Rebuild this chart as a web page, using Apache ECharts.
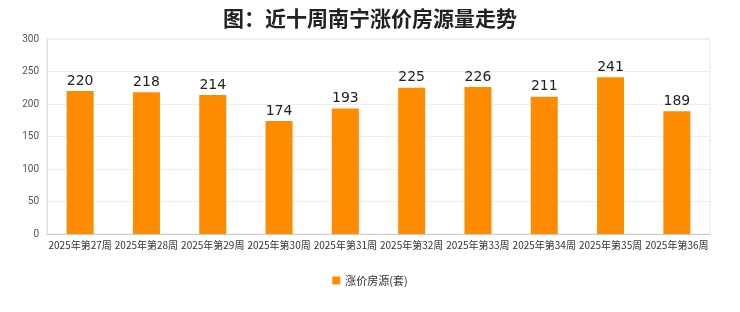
<!DOCTYPE html>
<html><head><meta charset="utf-8">
<script src="https://cdn.jsdelivr.net/npm/echarts@6/dist/echarts.min.js"></script>
<style>html,body{margin:0;padding:0;background:#fff}#c{width:740px;height:312px}</style>
</head><body><div id="c"></div>
<script>
const categories = ['2025年第27周','2025年第28周','2025年第29周','2025年第30周','2025年第31周','2025年第32周','2025年第33周','2025年第34周','2025年第35周','2025年第36周'];
const values = [220,218,214,174,193,225,226,211,241,189];
const seriesName = '涨价房源(套)';
const titleText = '图：近十周南宁涨价房源量走势';

const chart = echarts.init(document.getElementById('c'));
chart.setOption({
  animation:false,
  backgroundColor:'#fff',
  title:{text:titleText,left:'center',top:3,textStyle:{fontFamily:'Noto Sans CJK SC',fontSize:21,fontWeight:'bold',color:'#222'}},
  grid:{left:47,right:30,top:39,bottom:78,show:true,borderColor:'#e6e6e6',borderWidth:1},
  legend:{bottom:21,left:'center',itemWidth:8,itemHeight:8,icon:'rect',data:[seriesName],textStyle:{fontFamily:'Noto Sans CJK SC',fontSize:11,color:'#333'}},
  xAxis:{type:'category',data:categories,axisLine:{lineStyle:{color:'#ccc'}},axisTick:{show:false},
    axisLabel:{interval:0,fontFamily:'Noto Sans CJK SC',fontSize:10,color:'#333',margin:6}},
  yAxis:{type:'value',min:0,max:300,interval:50,axisLine:{show:true,lineStyle:{color:'#ddd'}},
    axisLabel:{fontSize:10,color:'#555',fontFamily:'Roboto'},splitLine:{lineStyle:{color:'#eee'}}},
  series:[{name:seriesName,type:'bar',data:values,barWidth:27,itemStyle:{color:'#ff8c00'},
    label:{show:true,position:'top',fontSize:14,color:'#222',fontFamily:'DejaVu Sans',distance:3}}]
});
</script></body></html>
